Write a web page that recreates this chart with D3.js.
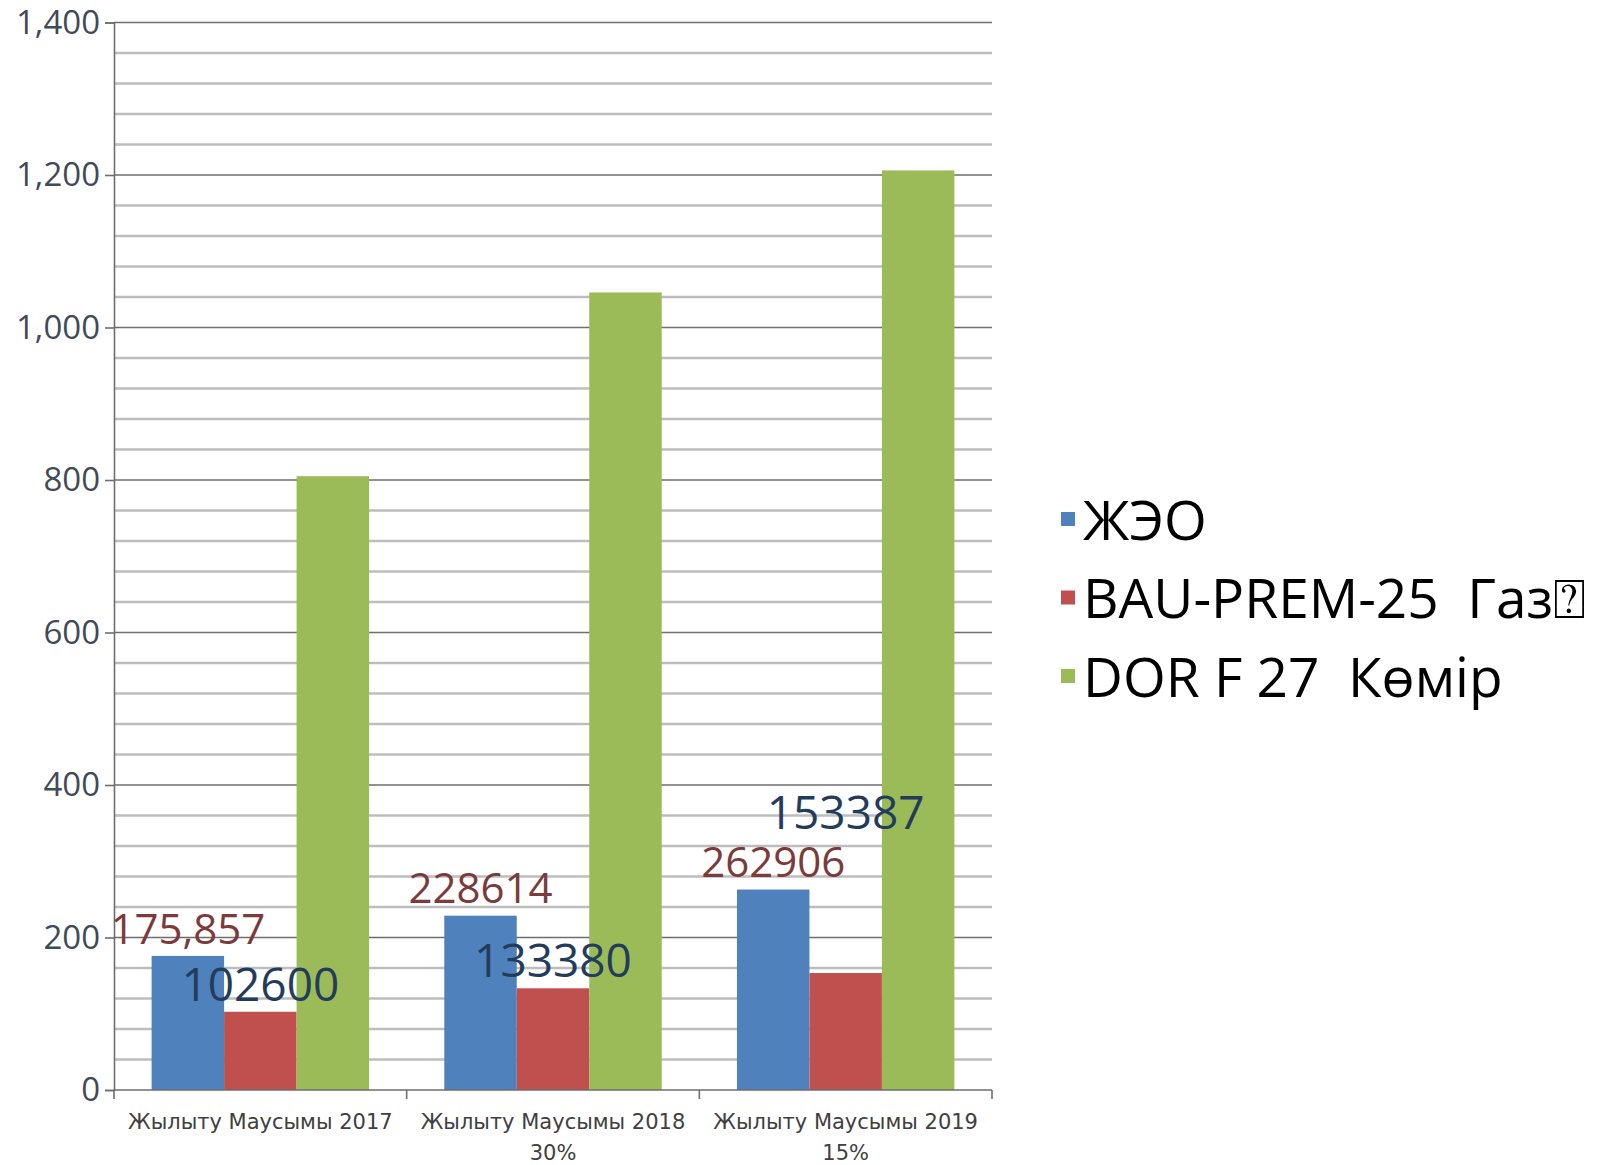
<!DOCTYPE html>
<html>
<head>
<meta charset="utf-8">
<script src="https://cdn.jsdelivr.net/npm/d3@7"></script>
<style>
  body { margin: 0; background: #fff; }
  svg { display: block; }
</style>
</head>
<body>
<div id="chart"></div>
<script>
// categories and series
const categories = ["Жылыту Маусымы 2017", "Жылыту Маусымы 2018", "Жылыту Маусымы 2019"];
const categorySub = ["", "30%", "15%"];
const seriesNames = ["ЖЭО", "BAU-PREM-25  Газ\u2370", "DOR F 27  Көмір"];
const seriesColors = ["#4f81bd", "#c0504d", "#9bbb59"];

const zheo = [175.857, 228.614, 262.906];
const bauPrem = [102.6, 133.38, 153.387];
const dorF = [805, 1046, 1206];

// data label texts as shown on the chart
const zheoLabels = ["175,857", "228614", "262906"];
const bauLabels = ["102600", "133380", "153387"];

const yTicks = [0, 200, 400, 600, 800, 1000, 1200, 1400];

const W = 1620, H = 1165;
const margin = { top: 22.5, left: 114, right: 628, bottom: 75 };
const width = W - margin.left - margin.right;
const height = H - margin.top - margin.bottom;

const svg = d3.select("#chart").append("svg")
  .attr("width", W)
  .attr("height", H);

const g = svg.append("g")
  .attr("transform", `translate(${margin.left},${margin.top})`);

const y = d3.scaleLinear().domain([0, 1400]).range([height, 0]);

const x0 = d3.scaleBand().domain(categories).range([0, width]).padding(0);
const pad = x0.bandwidth() * 0.1285;
const x1 = d3.scaleBand().domain(d3.range(3)).range([pad, x0.bandwidth() - pad]).padding(0);

// gridlines: minor every 40, major every 200
const minor = d3.range(0, 1401, 40).filter(v => v % 200 !== 0);
g.selectAll("line.minor")
  .data(minor)
  .join("line")
  .attr("x1", 0).attr("x2", width)
  .attr("y1", d => y(d)).attr("y2", d => y(d))
  .attr("stroke", "#bdbdbd")
  .attr("stroke-width", 2.5);

g.selectAll("line.major")
  .data(yTicks.filter(v => v > 0))
  .join("line")
  .attr("x1", 0).attr("x2", width)
  .attr("y1", d => y(d)).attr("y2", d => y(d))
  .attr("stroke", "#6e6e6e")
  .attr("stroke-width", 1.6);

// y axis
const yAxis = g.append("g")
  .call(d3.axisLeft(y).tickValues(yTicks).tickSize(9).tickPadding(5).tickFormat(d3.format(",")));
yAxis.select(".domain").attr("stroke", "#6e6e6e").attr("stroke-width", 1.6);
yAxis.selectAll(".tick line").attr("stroke", "#6e6e6e").attr("stroke-width", 1.6);
yAxis.selectAll(".tick text")
  .attr("fill", "#3f4a5a")
  .style("font-family", "'Open Sans', sans-serif")
  .style("font-size", "33px");

// bars
const series = [zheo, bauPrem, dorF];
series.forEach((vals, si) => {
  g.selectAll(`rect.s${si}`)
    .data(vals)
    .join("rect")
    .attr("x", (d, i) => x0(categories[i]) + x1(si))
    .attr("y", d => y(d))
    .attr("width", x1.bandwidth())
    .attr("height", d => y(0) - y(d))
    .attr("fill", seriesColors[si]);
});

// x axis
const xAxis = g.append("g")
  .attr("transform", `translate(0,${height})`);
xAxis.append("line")
  .attr("x1", 0).attr("x2", width)
  .attr("stroke", "#6e6e6e").attr("stroke-width", 1.6);
xAxis.selectAll("line.tk")
  .data(d3.range(4))
  .join("line")
  .attr("x1", d => d * x0.step()).attr("x2", d => d * x0.step())
  .attr("y1", 0).attr("y2", 9)
  .attr("stroke", "#6e6e6e").attr("stroke-width", 1.6);

const xl = xAxis.selectAll("text.cat")
  .data(categories)
  .join("text")
  .attr("x", d => x0(d) + x0.bandwidth() / 2)
  .attr("y", 39)
  .attr("text-anchor", "middle")
  .attr("fill", "#404040")
  .style("font-family", "'DejaVu Sans', sans-serif")
  .style("font-size", "21px");
xl.append("tspan").text(d => d);
xl.append("tspan")
  .attr("x", d => x0(d) + x0.bandwidth() / 2)
  .attr("dy", 31)
  .text((d, i) => categorySub[i]);

// data labels (manually placed in the original; the last BAU label was lifted)
const labelLift = { "1-2": 133 };
const labelSets = [
  { labels: zheoLabels, vals: zheo, si: 0, color: "#7b3b3b", size: 42 },
  { labels: bauLabels, vals: bauPrem, si: 1, color: "#233c5c", size: 46 }
];
labelSets.forEach(s => {
  g.selectAll(`text.lab${s.si}`)
    .data(s.labels)
    .join("text")
    .attr("x", (d, i) => x0(categories[i]) + x1(s.si) + x1.bandwidth() / 2)
    .attr("y", (d, i) => y(s.vals[i]) - 27 - (labelLift[`${s.si}-${i}`] || 0))
    .attr("dy", "0.35em")
    .attr("text-anchor", "middle")
    .attr("fill", s.color)
    .style("font-family", "'Open Sans', sans-serif")
    .style("font-size", s.size + "px")
    .text(d => d);
});

// legend
const legend = svg.append("g")
  .attr("transform", "translate(1061,520)");
const items = legend.selectAll("g")
  .data(seriesNames)
  .join("g")
  .attr("transform", (d, i) => `translate(0,${i * 78.5})`);
items.append("rect")
  .attr("x", 0).attr("y", -8)
  .attr("width", 14).attr("height", 14)
  .attr("fill", (d, i) => seriesColors[i]);
items.append("text")
  .attr("x", 22)
  .attr("y", 0)
  .attr("dy", "0.36em")
  .attr("fill", "#000")
  .style("white-space", "pre")
  .style("font-family", "'Open Sans', 'DejaVu Sans', sans-serif")
  .style("font-size", "55px")
  .text(d => d);
</script>
</body>
</html>
